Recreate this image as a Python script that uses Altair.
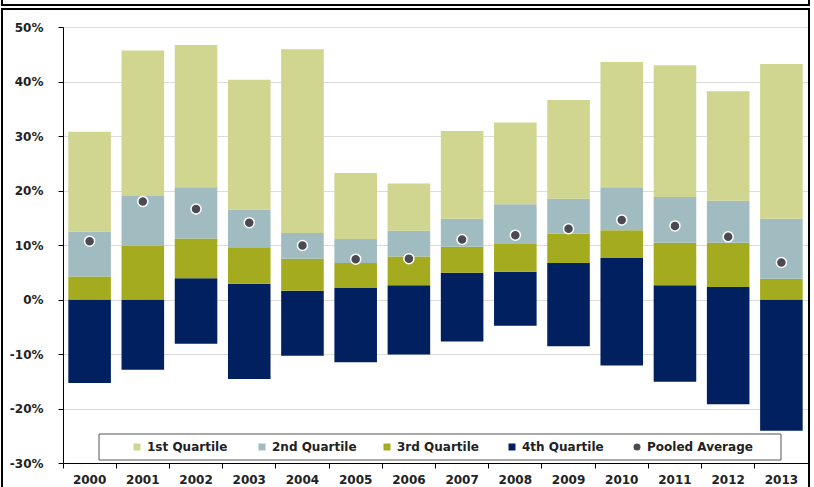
import altair as alt
import pandas as pd

years = [str(y) for y in range(2000, 2014)]
# quartile boundaries (%), bottom to top
low  = [-15.3, -12.9, -8.1, -14.6, -10.3, -11.5, -10.1, -7.7, -4.8, -8.6, -12.1, -15.1, -19.2, -24.1]
b1   = [0.0, 0.0, 3.9, 2.9, 1.6, 2.1, 2.6, 4.9, 5.1, 6.7, 7.6, 2.6, 2.3, 0.0]
b2   = [4.2, 9.9, 11.2, 9.6, 7.5, 6.7, 7.9, 9.7, 10.2, 12.1, 12.7, 10.4, 10.4, 3.8]
b3   = [12.5, 19.0, 20.6, 16.5, 12.2, 11.1, 12.6, 14.8, 17.5, 18.5, 20.6, 18.8, 18.1, 14.8]
high = [30.8, 45.7, 46.7, 40.3, 45.9, 23.2, 21.3, 30.9, 32.5, 36.6, 43.6, 43.0, 38.2, 43.2]
pooled = [10.7, 18.0, 16.6, 14.1, 9.9, 7.4, 7.5, 11.0, 11.8, 13.0, 14.6, 13.5, 11.5, 6.8]

series_names = ["1st Quartile", "2nd Quartile", "3rd Quartile", "4th Quartile", "Pooled Average"]
colors = ["#d0d590", "#a0bcc0", "#a4ab1e", "#00205f", "#4b4a52"]
shapes = ["square", "square", "square", "square", "circle"]
y_ticks = [-30, -20, -10, 0, 10, 20, 30, 40, 50]

rows = []
for i, yr in enumerate(years):
    rows.append({"year": yr, "series": "4th Quartile", "lo": low[i], "hi": b1[i]})
    rows.append({"year": yr, "series": "3rd Quartile", "lo": b1[i], "hi": b2[i]})
    rows.append({"year": yr, "series": "2nd Quartile", "lo": b2[i], "hi": b3[i]})
    rows.append({"year": yr, "series": "1st Quartile", "lo": b3[i], "hi": high[i]})
bars_df = pd.DataFrame(rows)
avg_df = pd.DataFrame({"year": years, "value": pooled, "series": ["Pooled Average"] * len(years)})

FONT = "DejaVu Sans"

x_enc = alt.X("year:N", sort=years,
              scale=alt.Scale(paddingInner=0, paddingOuter=0),
              axis=alt.Axis(title=None, labelAngle=0, bandPosition=0, tickSize=5,
                            labelPadding=6, domainColor="#000", tickColor="#000",
                            labelFont=FONT, labelFontWeight="bold", labelFontSize=12,
                            labelColor="#222", grid=False))
y_scale = alt.Scale(domain=[-30, 50], nice=False)
y_axis = alt.Axis(title=None, values=y_ticks, labelExpr="datum.value + '%'",
                  tickSize=5, labelPadding=15, domainColor="#000", tickColor="#000",
                  gridColor="#dcdcdc", labelFont=FONT, labelFontWeight="bold",
                  labelFontSize=12, labelColor="#222")

legend = alt.Legend(title=None, orient="none", legendX=68, legendY=414, direction="horizontal",
                    columns=5, gridAlign="all", columnPadding=3, symbolSize=49,
                    labelOffset=4, labelFont=FONT, labelFontWeight="bold", labelFontSize=12,
                    labelColor="#222", symbolStrokeWidth=0, padding=0)

color_enc = alt.Color("series:N", scale=alt.Scale(domain=series_names, range=colors), legend=legend)
shape_enc = alt.Shape("series:N", scale=alt.Scale(domain=series_names, range=shapes), legend=legend)

one = alt.Data(values=[{"k": 1}])

frame_top = alt.Chart(one).mark_rect(fillOpacity=0, stroke="#000", strokeWidth=2).encode(
    x=alt.value(-61), x2=alt.value(746), y=alt.value(-40), y2=alt.value(-22))
frame = alt.Chart(one).mark_rect(fillOpacity=0, stroke="#000", strokeWidth=2).encode(
    x=alt.value(-61), x2=alt.value(746), y=alt.value(-18), y2=alt.value(480))
legend_box = alt.Chart(one).mark_rect(fill="white", stroke="#555", strokeWidth=1).encode(
    x=alt.value(36), x2=alt.value(718), y=alt.value(407), y2=alt.value(433))

bars = alt.Chart(bars_df).mark_bar(width=alt.RelativeBandSize(0.8)).encode(
    x=x_enc,
    y=alt.Y("lo:Q", scale=y_scale, axis=y_axis),
    y2="hi:Q",
    color=color_enc,
)
points = alt.Chart(avg_df).mark_point(filled=True, size=100, opacity=1, stroke="white",
                                      strokeWidth=1.5).encode(
    x=alt.X("year:N", sort=years),
    y=alt.Y("value:Q", scale=y_scale),
    color=color_enc,
    shape=shape_enc,
)

chart = alt.layer(bars, legend_box, points, frame_top, frame).properties(
    width=745, height=436,
    padding={"left": 63, "top": 27, "right": 6, "bottom": 24},
    autosize=alt.AutoSizeParams(type="none"),
    background="white",
).configure_view(stroke=None)

chart.save("out.html", embed_options={"renderer": "svg", "actions": False})
